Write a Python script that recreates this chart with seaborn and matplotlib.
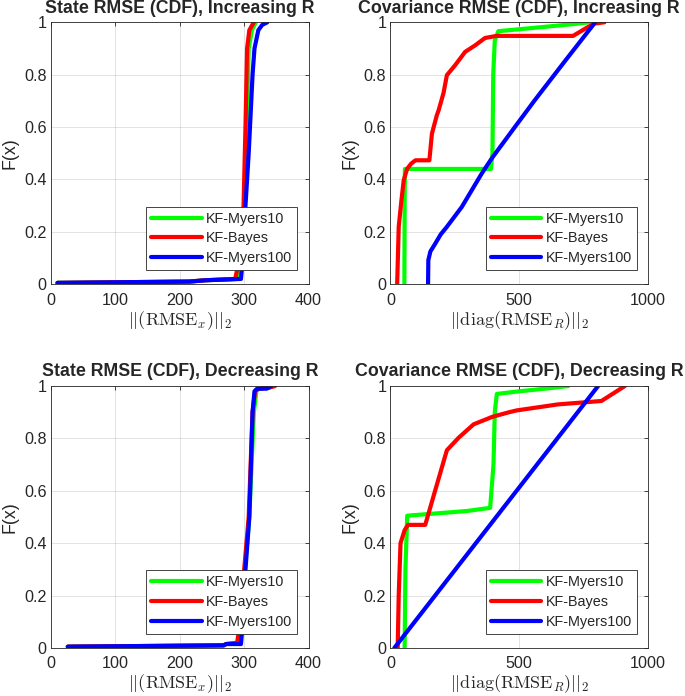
import numpy as np
import pandas as pd
import matplotlib
matplotlib.use("Agg")
import matplotlib.pyplot as plt
import seaborn as sns

series_names = ["KF-Myers10", "KF-Bayes", "KF-Myers100"]
series_colors = ["#00ff00", "#ff0000", "#0000ff"]

# State RMSE, increasing R
st_inc_m10_x = [10, 215, 240, 288, 296, 300, 304, 307, 312, 318]
st_inc_m10_F = [0.005, 0.01, 0.015, 0.02, 0.1, 0.3, 0.6, 0.9, 0.97, 1.0]
st_inc_bay_x = [10, 215, 240, 286, 293, 299, 302, 304.5, 308, 315]
st_inc_bay_F = [0.005, 0.01, 0.015, 0.02, 0.1, 0.3, 0.6, 0.9, 0.97, 1.0]
st_inc_m100_x = [10, 215, 240, 295, 298, 302, 307, 313, 316, 322, 328, 336]
st_inc_m100_F = [0.005, 0.01, 0.015, 0.02, 0.1, 0.3, 0.5, 0.8, 0.9, 0.97, 0.99, 1.0]

# Covariance RMSE, increasing R
cv_inc_m10_x = [54, 55, 56, 390, 396, 399, 405, 419, 496, 625, 700, 773]
cv_inc_m10_F = [0.0, 0.3, 0.44, 0.44, 0.5, 0.8, 0.93, 0.966, 0.973, 0.985, 0.992, 1.0]
cv_inc_bay_x = [26, 32, 42.5, 51.5, 64.5, 80, 97, 151, 161, 180, 187, 206, 219,
                251, 290, 329, 367, 412, 709, 767, 793, 831]
cv_inc_bay_F = [0.0, 0.219, 0.32, 0.397, 0.44, 0.46, 0.473, 0.473, 0.575, 0.645, 0.664, 0.73, 0.798,
                0.836, 0.887, 0.912, 0.94, 0.948, 0.948, 0.982, 0.995, 1.0]
cv_inc_m100_x = [146, 147, 155, 174, 195, 219, 277, 354, 393, 483, 560, 680, 795]
cv_inc_m100_F = [0.0, 0.092, 0.125, 0.155, 0.19, 0.219, 0.295, 0.422, 0.48, 0.6, 0.702, 0.855, 1.0]

# State RMSE, decreasing R
st_dec_m10_x = [26, 268, 272, 291, 296, 301, 308, 315, 319, 322, 340, 345]
st_dec_m10_F = [0.005, 0.01, 0.015, 0.02, 0.1, 0.3, 0.5, 0.9, 0.98, 0.99, 0.995, 1.0]
st_dec_bay_x = [26, 268, 272, 289, 294, 300, 307, 313, 317, 322, 340, 348]
st_dec_bay_F = [0.005, 0.01, 0.015, 0.02, 0.1, 0.3, 0.5, 0.9, 0.98, 0.99, 0.995, 1.0]
st_dec_m100_x = [26, 268, 272, 295, 298, 302, 308, 313, 316, 320, 335, 342]
st_dec_m100_F = [0.005, 0.01, 0.015, 0.015, 0.1, 0.3, 0.5, 0.9, 0.98, 0.99, 0.99, 1.0]

# Covariance RMSE, decreasing R
cv_dec_m10_x = [55, 58, 65, 297, 387, 400, 405, 413, 500, 600, 690]
cv_dec_m10_F = [0.0, 0.3, 0.505, 0.523, 0.535, 0.7, 0.9, 0.97, 0.98, 0.99, 1.0]
cv_dec_bay_x = [28, 32, 39, 55, 68, 135, 172, 219, 265, 323, 394, 460, 490, 650, 819, 910]
cv_dec_bay_F = [0.0, 0.2, 0.4, 0.45, 0.47, 0.47, 0.596, 0.755, 0.803, 0.854, 0.882, 0.9, 0.907, 0.93, 0.943, 1.0]
cv_dec_m100_x = [15, 806]
cv_dec_m100_F = [0.0, 1.0]

panels = [
    ("State RMSE (CDF), Increasing R", r"$||(\mathrm{RMSE}_x)||_2$", 400,
     [(st_inc_m10_x, st_inc_m10_F), (st_inc_bay_x, st_inc_bay_F), (st_inc_m100_x, st_inc_m100_F)]),
    ("Covariance RMSE (CDF), Increasing R", r"$||\mathrm{diag}(\mathrm{RMSE}_R)||_2$", 1000,
     [(cv_inc_m10_x, cv_inc_m10_F), (cv_inc_bay_x, cv_inc_bay_F), (cv_inc_m100_x, cv_inc_m100_F)]),
    ("State RMSE (CDF), Decreasing R", r"$||(\mathrm{RMSE}_x)||_2$", 400,
     [(st_dec_m10_x, st_dec_m10_F), (st_dec_bay_x, st_dec_bay_F), (st_dec_m100_x, st_dec_m100_F)]),
    ("Covariance RMSE (CDF), Decreasing R", r"$||\mathrm{diag}(\mathrm{RMSE}_R)||_2$", 1000,
     [(cv_dec_m10_x, cv_dec_m10_F), (cv_dec_bay_x, cv_dec_bay_F), (cv_dec_m100_x, cv_dec_m100_F)]),
]

sns.set_style("white")
plt.rcParams['font.family'] = ['Liberation Sans', 'DejaVu Sans']
plt.rcParams['mathtext.fontset'] = 'cm'
plt.rcParams['axes.edgecolor'] = '#262626'
plt.rcParams['axes.linewidth'] = 0.6

fig, axes = plt.subplots(2, 2, figsize=(6.85, 6.96), dpi=100)
fig.subplots_adjust(left=0.0745, right=0.946, top=0.968, bottom=0.069,
                    wspace=0.318, hspace=0.389)

for ax, (title, xlab, xmax, curves) in zip(axes.flat, panels):
    for name, col, (xs, fs) in zip(series_names, series_colors, curves):
        df = pd.DataFrame({"x": xs, "F": fs})
        sns.lineplot(data=df, x="x", y="F", ax=ax, color=col, lw=3,
                     sort=False, estimator=None, label=name)
    ax.set_xlim(0, xmax)
    ax.set_ylim(0, 1)
    if xmax == 400:
        ax.set_xticks([0, 100, 200, 300, 400])
    else:
        ax.set_xticks([0, 500, 1000])
    ax.set_yticks([0, 0.2, 0.4, 0.6, 0.8, 1])
    ax.set_yticklabels(["0", "0.2", "0.4", "0.6", "0.8", "1"])
    ax.grid(True, color='#262626', alpha=0.15, lw=0.6)
    ax.tick_params(direction='in', length=3, width=0.6, labelsize=11.6,
                   colors='#262626', top=True, right=True)
    ax.tick_params(axis='x', pad=6)
    ax.tick_params(axis='y', pad=3)
    ax.set_title(title, fontsize=12.8, fontweight='bold', pad=7)
    ax.set_xlabel(xlab, fontsize=13, labelpad=1)
    ax.set_ylabel("F(x)", fontsize=12.8, labelpad=4, color='#262626')
    leg = ax.legend(loc='lower right', bbox_to_anchor=(0.957, 0.053), borderaxespad=0,
                    fontsize=10.4, fancybox=False, framealpha=1, edgecolor='#262626',
                    handlelength=3.5, handletextpad=0.3, labelspacing=0.4, borderpad=0.35)
    leg.get_frame().set_linewidth(0.6)

fig.savefig("out.png", dpi=100)
